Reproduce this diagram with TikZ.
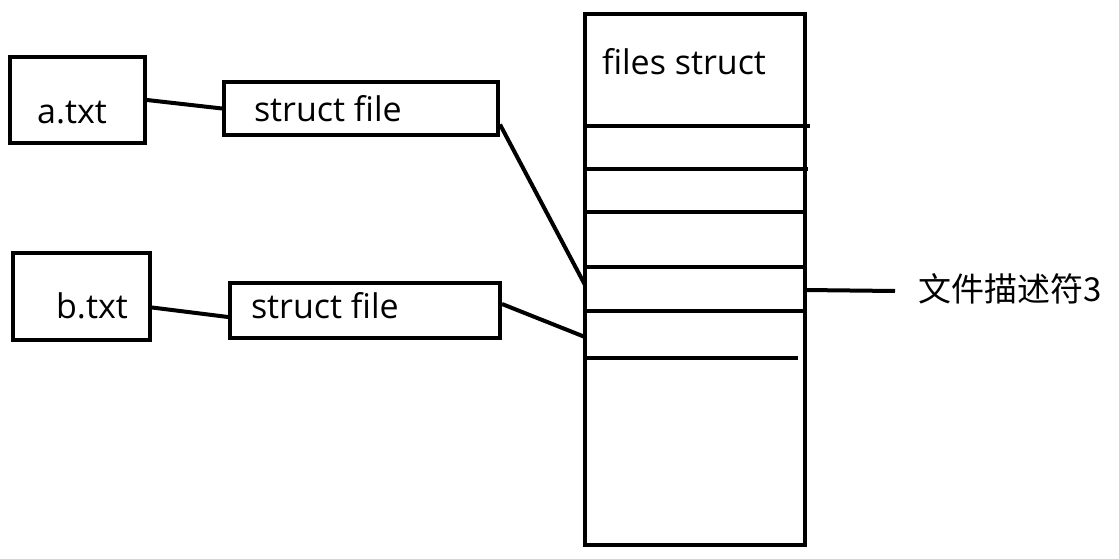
\documentclass[tikz,border=0pt]{standalone}
\usepackage{fontspec}
\setmainfont{Open Sans}
\newfontfamily\cjk{Noto Sans CJK SC}
\tikzset{
  fbox/.style={draw,line width=4pt,inner sep=0pt},
  ftext/.style={inner sep=0pt,font=\fontsize{34}{36}\selectfont},
}

\begin{document}
\begin{tikzpicture}[x=1pt,y=-1pt,line width=4pt]
\useasboundingbox (0,0) rectangle (1119,559);

\node[fbox,minimum width=135pt,minimum height=86pt] (abox) at (77.5,100) {};
\node[ftext] (atxt) at (72,113) {a.txt};
\node[fbox,minimum width=274pt,minimum height=53pt] (sfa) at (361,108.5) {};
\node[ftext,anchor=west] (sfatxt) at (252,109) {struct file};

\node[fbox,minimum width=137pt,minimum height=87pt] (bbox) at (81.5,296.5) {};
\node[ftext] (btxt) at (92,306) {b.txt};
\node[fbox,minimum width=270pt,minimum height=55pt] (sfb) at (365,310) {};
\node[ftext,anchor=west] (sfbtxt) at (249,306) {struct file};

% files struct table
\node[fbox,minimum width=220pt,minimum height=531pt] (fs) at (695,279.5) {};
\node[ftext,anchor=west] (fstxt) at (600,62) {files struct};
\foreach \y/\r in {126/810,169/808,212/803,267/803,311/803,358/798}
  \draw (585,\y) -- (\r,\y);
\coordinate (slot4) at (585,285);
\coordinate (slot5) at (585,337);
\coordinate (slot4r) at (805,290);

\node[ftext,anchor=west,font=\cjk\fontsize{33}{35}\selectfont] (fd) at (916,289) {文件描述符3};

\draw (abox.east) -- (sfa.west);
\draw ([yshift=-11pt]bbox.east) -- ([yshift=-7pt]sfb.west);
\draw ([yshift=-16pt]sfa.east) -- (slot4);
\draw ([yshift=6pt]sfb.east) -- (slot5);
\draw (slot4r) -- ([xshift=-21pt,yshift=-2pt]fd.west);
\end{tikzpicture}
\end{document}
